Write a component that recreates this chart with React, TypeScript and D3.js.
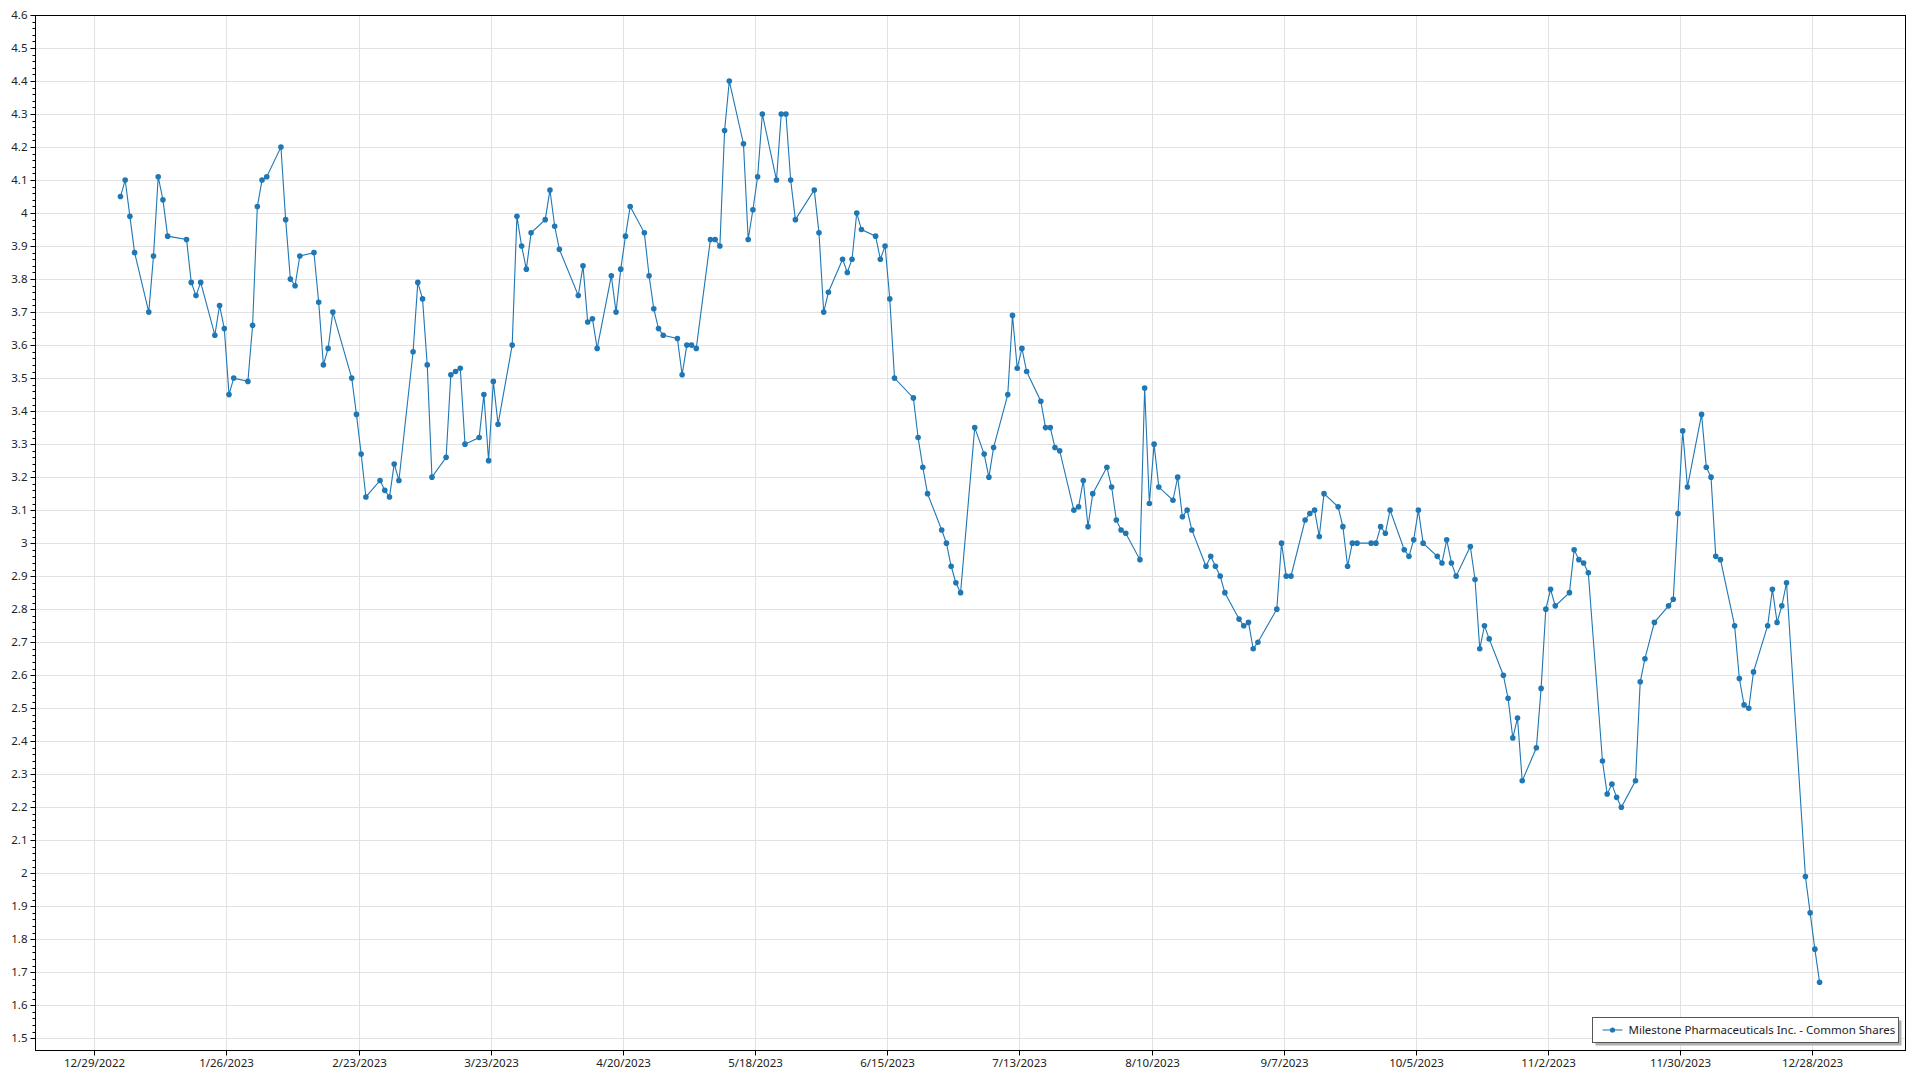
import React from "react";
import * as d3 from "d3";

const seriesName = "Milestone Pharmaceuticals Inc. - Common Shares";

const holidays = [
  "2023-01-02", "2023-01-16", "2023-02-20", "2023-04-07", "2023-05-29",
  "2023-06-19", "2023-07-04", "2023-09-04", "2023-11-23", "2023-12-25",
];

const jan = [4.05, 4.10, 3.99, 3.88, 3.70, 3.87, 4.11, 4.04, 3.93, 3.92, 3.79, 3.75, 3.79, 3.63, 3.72, 3.65, 3.45, 3.50, 3.49, 3.66];
const feb = [4.02, 4.10, 4.11, 4.20, 3.98, 3.80, 3.78, 3.87, 3.88, 3.73, 3.54, 3.59, 3.70, 3.50, 3.39, 3.27, 3.14, 3.19, 3.16];
const mar = [3.14, 3.24, 3.19, 3.58, 3.79, 3.74, 3.54, 3.20, 3.26, 3.51, 3.52, 3.53, 3.30, 3.32, 3.45, 3.25, 3.49, 3.36, 3.60, 3.99, 3.90, 3.83, 3.94];
const apr = [3.98, 4.07, 3.96, 3.89, 3.75, 3.84, 3.67, 3.68, 3.59, 3.81, 3.70, 3.83, 3.93, 4.02, 3.94, 3.81, 3.71, 3.65, 3.63];
const may = [3.62, 3.51, 3.60, 3.60, 3.59, 3.92, 3.92, 3.90, 4.25, 4.40, 4.21, 3.92, 4.01, 4.11, 4.30, 4.10, 4.30, 4.30, 4.10, 3.98, 4.07, 3.94];
const jun = [3.70, 3.76, 3.86, 3.82, 3.86, 4.00, 3.95, 3.93, 3.86, 3.90, 3.74, 3.50, 3.44, 3.32, 3.23, 3.15, 3.04, 3.00, 2.93, 2.88, 2.85];
const jul = [3.35, 3.27, 3.20, 3.29, 3.45, 3.69, 3.53, 3.59, 3.52, 3.43, 3.35, 3.35, 3.29, 3.28, 3.10, 3.11, 3.19, 3.05, 3.15, 3.23];
const aug = [3.17, 3.07, 3.04, 3.03, 2.95, 3.47, 3.12, 3.30, 3.17, 3.13, 3.20, 3.08, 3.10, 3.04, 2.93, 2.96, 2.93, 2.90, 2.85, 2.77, 2.75, 2.76, 2.68];
const sep = [2.70, 2.80, 3.00, 2.90, 2.90, 3.07, 3.09, 3.10, 3.02, 3.15, 3.11, 3.05, 2.93, 3.00, 3.00, 3.00, 3.00, 3.05, 3.03, 3.10];
const oct = [2.98, 2.96, 3.01, 3.10, 3.00, 2.96, 2.94, 3.01, 2.94, 2.90, 2.99, 2.89, 2.68, 2.75, 2.71, 2.60, 2.53, 2.41, 2.47, 2.28, 2.38, 2.56];
const nov = [2.80, 2.86, 2.81, 2.85, 2.98, 2.95, 2.94, 2.91, 2.34, 2.24, 2.27, 2.23, 2.20, 2.28, 2.58, 2.65, 2.76, 2.81, 2.83, 3.09, 3.34];
const dec = [3.17, 3.39, 3.23, 3.20, 2.96, 2.95, 2.75, 2.59, 2.51, 2.50, 2.61, 2.75, 2.86, 2.76, 2.81, 2.88, 1.99, 1.88, 1.77, 1.67];

const xTickLabels = [
  "12/29/2022", "1/26/2023", "2/23/2023", "3/23/2023", "4/20/2023", "5/18/2023", "6/15/2023",
  "7/13/2023", "8/10/2023", "9/7/2023", "10/5/2023", "11/2/2023", "11/30/2023", "12/28/2023",
];

function tradingDays(): Date[] {
  const out: Date[] = [];
  const hol = new Set(holidays);
  for (let d = new Date(2023, 0, 1); d.getFullYear() === 2023; d = d3.timeDay.offset(d, 1)) {
    const wd = d.getDay();
    const key = d3.timeFormat("%Y-%m-%d")(d);
    if (wd === 0 || wd === 6 || hol.has(key)) continue;
    out.push(d);
  }
  return out;
}

const parseTick = d3.timeParse("%m/%d/%Y");

export default function App() {
  const W = 1920, H = 1080;
  const left = 35.5, right = 1905.5, top = 15.5, bottom = 1050.5;

  const values = [...jan, ...feb, ...mar, ...apr, ...may, ...jun, ...jul, ...aug, ...sep, ...oct, ...nov, ...dec];
  const days = tradingDays();
  const data = days.map((d, i) => ({ date: d3.timeHour.offset(d, 13.5), value: values[i] }))
    .filter((p) => p.value !== undefined);

  const t0 = parseTick(xTickLabels[0])!;
  const t1 = parseTick(xTickLabels[xTickLabels.length - 1])!;
  const x = d3.scaleTime().domain([t0, t1]).range([94.3, 1812.3]);
  const y = d3.scaleLinear().domain([1.5, 4.6]).range([1038.3, 15]);

  const yMajor = d3.range(15, 47).map((v) => v / 10);
  const yMinor = d3.range(0, 159).map((i) => 1.5 + i * 0.02).filter((v) => y(v) <= bottom && y(v) >= top - 1);

  const line = d3.line<{ date: Date; value: number }>()
    .x((d) => x(d.date))
    .y((d) => y(d.value));

  const font = "'Segoe UI', 'Noto Sans', 'Open Sans', sans-serif";
  const blue = "#1f77b4";
  const gridC = "#e2e2e2";

  const lgX = 1592.5, lgY = 1017.5, lgW = 306, lgH = 25;

  return (
    <svg width={W} height={H} style={{ position: "absolute", left: 0, top: 0, background: "#fff" }}
      fontFamily={font}>
      <rect x={0} y={0} width={W} height={H} fill="#fff" />
      {yMajor.map((v) => (
        <line key={"gy" + v} x1={left} x2={right} y1={Math.round(y(v)) + 0.5} y2={Math.round(y(v)) + 0.5} stroke={gridC} strokeWidth={1} />
      ))}
      {xTickLabels.map((s) => {
        const px = Math.round(x(parseTick(s)!)) + 0.5;
        return <line key={"gx" + s} x1={px} x2={px} y1={top} y2={bottom} stroke={gridC} strokeWidth={1} />;
      })}
      <path d={line(data) || ""} fill="none" stroke={blue} strokeWidth={1.1} />
      {data.map((d, i) => (
        <circle key={i} cx={x(d.date)} cy={y(d.value)} r={2.8} fill={blue} />
      ))}
      <rect x={left} y={top} width={right - left} height={bottom - top} fill="none" stroke="#000" strokeWidth={1} />
      {yMinor.map((v, i) => (
        <line key={"ym" + i} x1={left - 3} x2={left} y1={Math.round(y(v)) + 0.5} y2={Math.round(y(v)) + 0.5} stroke="#000" strokeWidth={1} />
      ))}
      {yMajor.map((v) => (
        <g key={"yt" + v}>
          <line x1={left - 5} x2={left} y1={Math.round(y(v)) + 0.5} y2={Math.round(y(v)) + 0.5} stroke="#000" strokeWidth={1} />
          <text x={left - 8} y={y(v)} dy="0.35em" textAnchor="end" fontSize={11.5} fill="#222">
            {String(Number(v.toFixed(1)))}
          </text>
        </g>
      ))}
      {xTickLabels.map((s) => {
        const px = Math.round(x(parseTick(s)!)) + 0.5;
        return (
          <g key={"xt" + s}>
            <line x1={px} x2={px} y1={bottom} y2={bottom + 5} stroke="#000" strokeWidth={1} />
            <text x={px} y={1067} textAnchor="middle" fontSize={11.5} fill="#222">{s}</text>
          </g>
        );
      })}
      <rect x={lgX + 3} y={lgY + 3} width={lgW} height={lgH} fill="#b0b0b0" />
      <rect x={lgX} y={lgY} width={lgW} height={lgH} fill="#fff" stroke="#555" strokeWidth={1} />
      <line x1={lgX + 10} x2={lgX + 30} y1={lgY + 12.5} y2={lgY + 12.5} stroke={blue} strokeOpacity={0.7} strokeWidth={1.5} />
      <circle cx={lgX + 20} cy={lgY + 12.5} r={2.6} fill={blue} />
      <text x={lgX + 36} y={lgY + 12.5} dy="0.35em" fontSize={11.5} fill="#222">{seriesName}</text>
    </svg>
  );
}
